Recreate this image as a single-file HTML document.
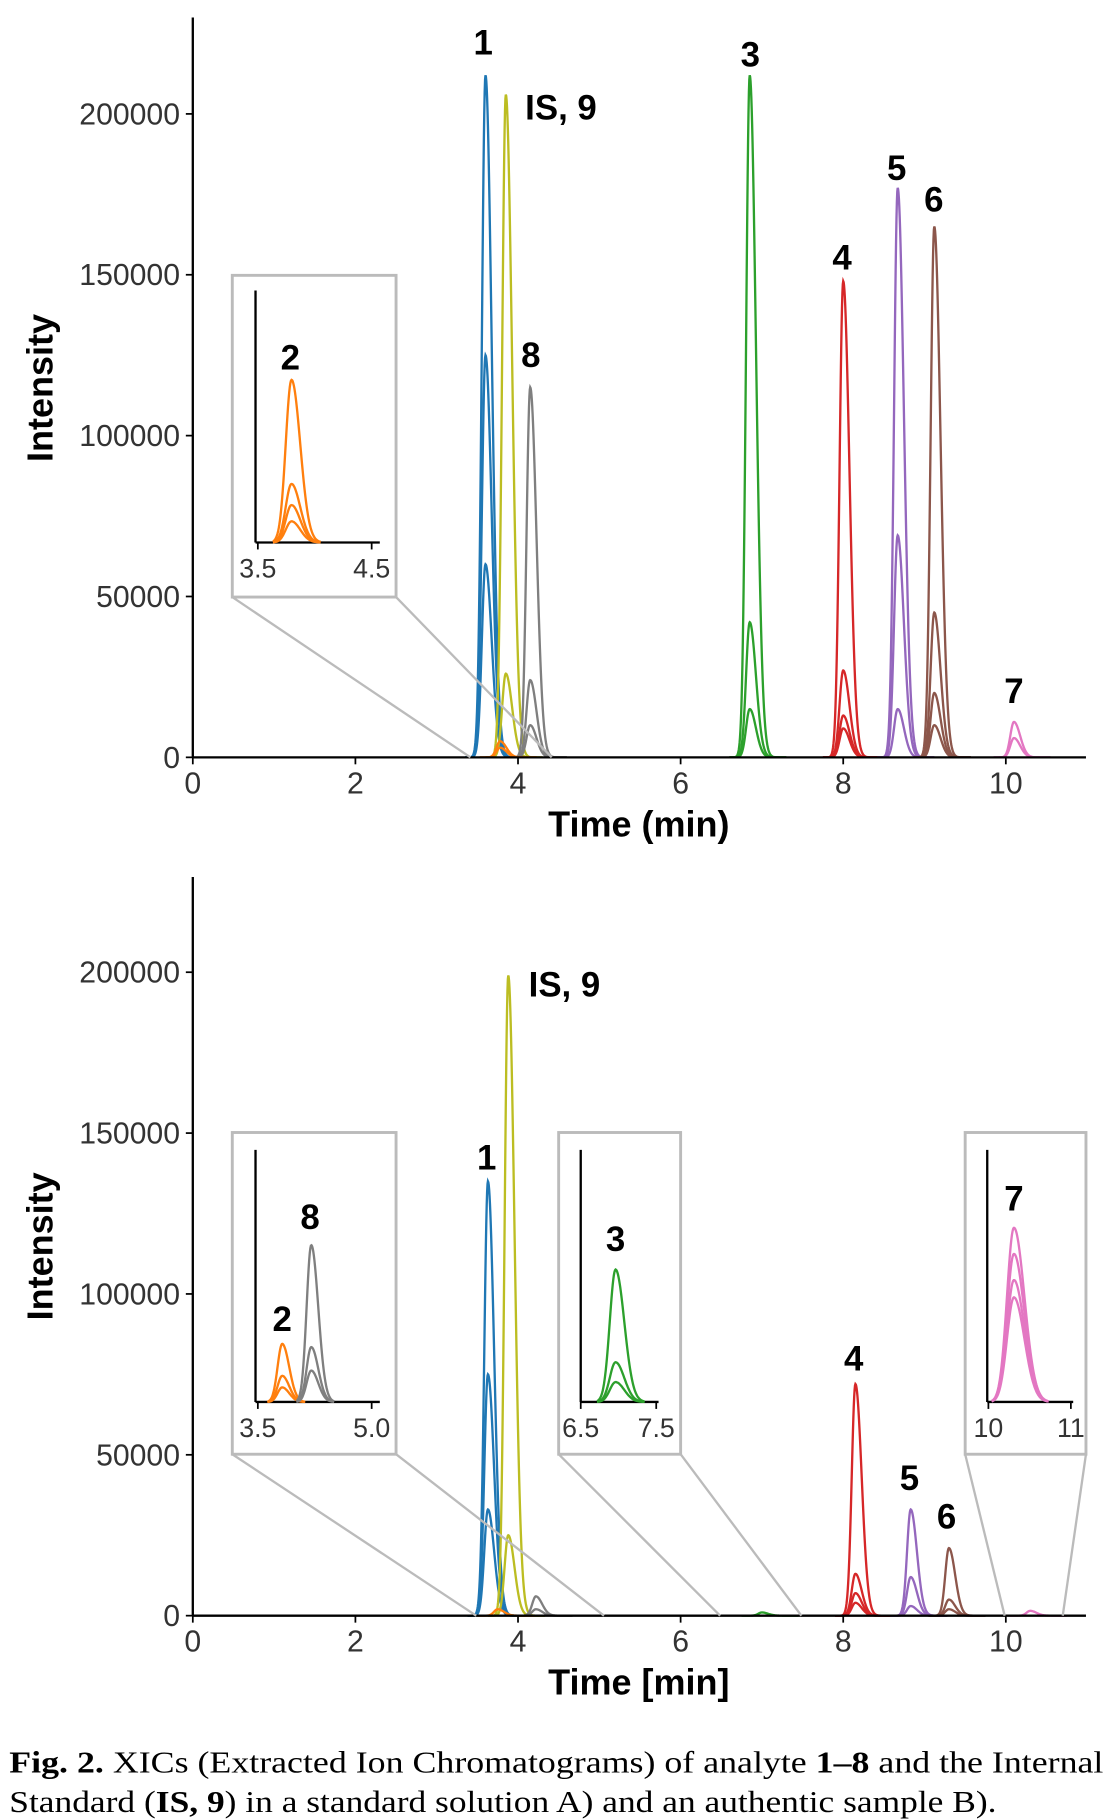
<!DOCTYPE html>
<html><head><meta charset="utf-8"><style>
html,body{margin:0;padding:0;background:#fff;}
svg{display:block;}
text{font-family:"Liberation Sans",Arial,sans-serif;}
.cap{font-family:"Liberation Serif",serif;}
</style></head><body>
<svg id="fig" width="1115" height="1819" viewBox="0 0 960 1566" xmlns="http://www.w3.org/2000/svg"></svg>
<script>
// Panel A peaks
const peakLabelsA = ["1","IS","8","2","3","4","5","6","7"];
const peakTimesA = [3.6,3.85,4.15,3.78,6.85,8.0,8.67,9.12,10.1];
const peakHeightsA = [[212000,125000,60000],[206000,26000],[115000,24000,10000],[5000,3000],[212000,42000,15000],[148000,27000,13000,9000],[177000,69000,15000],[165000,45000,20000,10000],[11000,6000]];
const peakColors = {"1":"#1f77b4","IS":"#bcbd22","8":"#7f7f7f","2":"#ff7f0e","3":"#2ca02c","4":"#d62728","5":"#9467bd","6":"#8c564b","7":"#e377c2"};
// Panel B peaks
const peakLabelsB = ["1","IS","8","2","3","4","5","6","7"];
const peakTimesB = [3.63,3.88,4.22,3.75,7.0,8.15,8.83,9.3,10.3];
const peakHeightsB = [[135000,75000,33000],[199000,25000],[6000,2000],[2000],[1000],[72000,13000,7000,4000],[33000,12000,3000],[21000,5000,2000],[1500]];
const yTicks = [0,50000,100000,150000,200000];
const xTicks = [0,2,4,6,8,10];
// Inset data: relative heights
const insetA_heights = [1,0.36,0.23,0.13];
const insetB1_orange = [1,0.45,0.25];
const insetB1_gray = [1,0.35,0.2];
const insetB2_green = [1,0.3,0.15];
const insetB3_pink = [1,0.85,0.7,0.6];

const svg=document.getElementById('fig');
const NS='http://www.w3.org/2000/svg';
function mk(tag,attrs,parent,txt){const e=document.createElementNS(NS,tag);for(const k in attrs)e.setAttribute(k,attrs[k]);if(txt!==undefined)e.textContent=txt;(parent||svg).appendChild(e);return e;}

function peakPath(xf,yf,t0,h,s,tail,t1,t2){
  let d='';
  for(let t=t1;t<=t2+1e-9;t+=0.005){
    const sg=t<t0?s:s*tail;
    const v=h*Math.exp(-0.5*((t-t0)/sg)**2);
    d+=(d?'L':'M')+xf(t).toFixed(2)+','+yf(v).toFixed(2);
  }
  return d;
}

function panel(y0,yTop,labels,times,heights,xlabel,pid){
  const xf=t=>166+t*70, yf=v=>y0-v*554/200000;
  const g=mk('g',{});
  
  
  labels.forEach((lab,i)=>{
    heights[i].forEach((h,j)=>{
      const p=mk('path',{d:peakPath(xf,yf,times[i],h,0.045,1.7,times[i]-0.25,times[i]+0.45),fill:'none',stroke:peakColors[lab],'stroke-width':2},g);
      
      
    });
  });
  mk('line',{x1:166,y1:yTop,x2:166,y2:y0,stroke:'#000','stroke-width':2},g);
  mk('line',{x1:166,y1:y0,x2:935,y2:y0,stroke:'#000','stroke-width':2},g);
  yTicks.forEach(v=>{
    mk('line',{x1:160,y1:yf(v),x2:166,y2:yf(v),stroke:'#000','stroke-width':1.5},g);
    const t=mk('text',{x:155,y:yf(v)+9,'font-size':26,'text-anchor':'end',fill:'#333'},g,String(v));
    
  });
  xTicks.forEach(v=>{
    mk('line',{x1:xf(v),y1:y0,x2:xf(v),y2:y0+6,stroke:'#000','stroke-width':1.5},g);
    const t=mk('text',{x:xf(v),y:y0+31,'font-size':26,'text-anchor':'middle',fill:'#333'},g,String(v));
    
  });
  const xt=mk('text',{x:550,y:y0+68,'font-size':31,'font-weight':'bold','text-anchor':'middle'},g,xlabel);
  
  const yt=mk('text',{x:0,y:0,'font-size':31,'font-weight':'bold','text-anchor':'middle',transform:`translate(45,${y0-318}) rotate(-90)`},g,'Intensity');
  
  return {xf,yf};
}

function peakLabel(x,y,s,name){const t=mk('text',{x:x,y:y,'font-size':30,'font-weight':'bold','text-anchor':'middle'},svg,s);}

function insetBox(x1,y1,x2,y2,c1,c2,name){
  mk('line',{x1:x1,y1:y2,x2:c1[0],y2:c1[1],stroke:'#bbb','stroke-width':2});
  mk('line',{x1:x2,y1:y2,x2:c2[0],y2:c2[1],stroke:'#bbb','stroke-width':2});
  const r=mk('rect',{x:x1,y:y1,width:x2-x1,height:y2-y1,fill:'#fff',stroke:'#bbb','stroke-width':2.5});
  
}
function insetAxes(ax,ayTop,ay,axEnd,ticks){
  mk('line',{x1:ax,y1:ayTop,x2:ax,y2:ay,stroke:'#000','stroke-width':2});
  mk('line',{x1:ax,y1:ay,x2:axEnd,y2:ay,stroke:'#000','stroke-width':2});
  ticks.forEach(([x,l])=>{mk('line',{x1:x,y1:ay,x2:x,y2:ay+6,stroke:'#000','stroke-width':1.5});
    const t=mk('text',{x:x,y:ay+30,'font-size':23,'text-anchor':'middle',fill:'#333'},svg,l);});
}
function insetPeak(cx,base,px,rel,color,w,name){
  rel.forEach((r,i)=>{
    let d='';
    for(let dx=-3.2*w;dx<=5*w;dx+=0.5){const sg=dx<0?w:w*1.5;const v=px*r*Math.exp(-0.5*(dx/sg)**2);d+=(d?'L':'M')+(cx+dx).toFixed(1)+','+(base-v).toFixed(1);}
    const p=mk('path',{d:d,fill:'none',stroke:color,'stroke-width':2});
    
  });
}

// Panel A
panel(652,15,peakLabelsA,peakTimesA,peakHeightsA,'Time (min)','a');
peakLabel(416,47,'1','label-1');peakLabel(483,103,'IS, 9','label-is-9');peakLabel(457,316,'8','label-8');
peakLabel(646,57,'3','label-3');peakLabel(725,232,'4','label-4');peakLabel(772,155,'5','label-5');peakLabel(804,182,'6','label-6');peakLabel(873,605,'7','label-7');
insetBox(200,237,341,514,[405,652],[475,652],'inset-a-analyte-2');
insetAxes(220,250,467,327,[[222,'3.5'],[320,'4.5']]);
insetPeak(251,467,140,insetA_heights,peakColors['2'],5,'inset-a-trace-2');
peakLabel(250,318,'2','inset-label-2');

// Panel B
panel(1391,755,peakLabelsB,peakTimesB,peakHeightsB,'Time [min]','b');
peakLabel(419,1007,'1','label-b-1');peakLabel(486,858,'IS, 9','label-b-is-9');peakLabel(735,1180,'4','label-b-4');peakLabel(783,1283,'5','label-b-5');peakLabel(815,1316,'6','label-b-6');
insetBox(200,975,341,1252,[410,1391],[520,1391],'inset-b-analytes-2-8');
insetAxes(220,990,1207,327,[[222,'3.5'],[320,'5.0']]);
insetPeak(243,1207,50,insetB1_orange,peakColors['2'],4,'inset-b-trace-2');
insetPeak(268,1207,135,insetB1_gray,peakColors['8'],4,'inset-b-trace-8');
peakLabel(243,1146,'2','inset-label-b-2');peakLabel(267,1058,'8','inset-label-b-8');
insetBox(481,975,586,1252,[620,1391],[690,1391],'inset-b-analyte-3');
insetAxes(500,990,1207,567,[[500,'6.5'],[565,'7.5']]);
insetPeak(530,1207,114,insetB2_green,peakColors['3'],5,'inset-b-trace-3');
peakLabel(530,1077,'3','inset-label-b-3');
insetBox(831,975,935,1252,[865,1391],[915,1391],'inset-b-analyte-7');
insetAxes(850,990,1207,924,[[851,'10'],[922,'11']]);
insetPeak(873,1207,150,insetB3_pink,peakColors['7'],6,'inset-b-trace-7');
peakLabel(873,1042,'7','inset-label-b-7');

// caption
const c1=mk('text',{x:8,y:1526,'font-size':26,class:'cap',textLength:942,lengthAdjust:'spacingAndGlyphs'});

c1.innerHTML='<tspan font-weight="bold">Fig. 2.</tspan> XICs (Extracted Ion Chromatograms) of analyte <tspan font-weight="bold">1–8</tspan> and the Internal';
const c2=mk('text',{x:8,y:1560,'font-size':26,class:'cap',textLength:850,lengthAdjust:'spacingAndGlyphs'});

c2.innerHTML='Standard (<tspan font-weight="bold">IS, 9</tspan>) in a standard solution A) and an authentic sample B).';
</script>
</body></html>
